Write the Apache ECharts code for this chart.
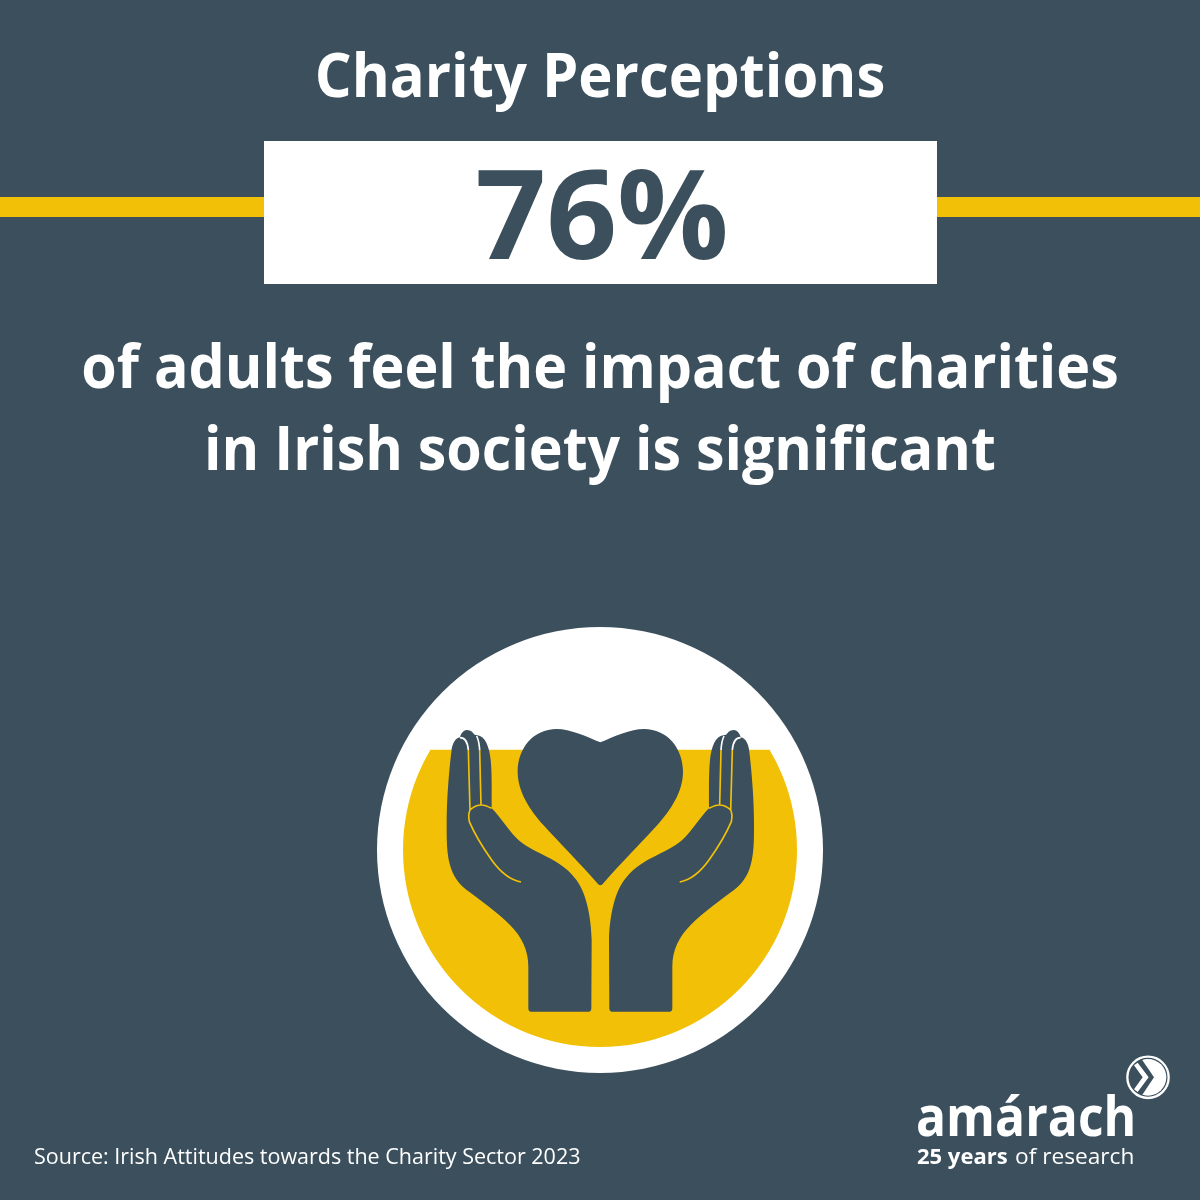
<!DOCTYPE html>
<html><head><meta charset="utf-8">
<style>html,body{margin:0;padding:0;background:#3b4f5c}#c{width:1200px;height:1200px}</style>
<script src="https://cdn.jsdelivr.net/npm/echarts@6/dist/echarts.min.js"></script>
</head><body><div id="c"></div>
<script>
const titleText = 'Charity Perceptions';
const headlineValue = [76];
const headlineSuffix = '%';
const bodyLines = ['of adults feel the impact of charities', 'in Irish society is significant'];
const sourceText = 'Source: Irish Attitudes towards the Charity Sector 2023';
const logoName = 'amárach';
const logoBold = '25 years';
const logoRest = 'of research';

const BG = '#3b4f5c', GOLD = '#f2c107', WHITE = '#ffffff';
const FONT = '"Open Sans", "Noto Sans", sans-serif';

const handPath = 'M325 770 L325 895 C325 902 328 905 333 905 L506 905 C511 905 514 902 514 895 L515 690 C513 610 495 540 465 505 C440 470 400 450 370 435 C340 420 310 405 290 385 C265 360 240 320 215 295 C215 240 216 190 212 150 C208 110 195 78 172 76 C165 76 162 74 160 70 C155 62 148 60 140 60 C130 60 122 72 120 82 C105 85 97 100 94 125 C85 200 80 280 80 340 C80 390 80 430 90 465 C100 500 115 520 140 540 C180 570 230 605 270 645 C305 680 325 720 325 770 Z';
const heartPath = 'M541 97 C500 80 450 57 410 57 C340 57 293 115 293 185 C293 245 330 300 370 345 C420 400 480 460 532 520 C537 528 545 528 550 520 C602 460 662 400 712 345 C752 300 789 245 789 185 C789 115 742 57 672 57 C632 57 582 80 541 97 Z';
const goldLinesPath = 'M145 120 L150 300 M179 120 L183 285 M150 300 C160 290 175 285 185 285 C195 285 205 290 215 295 M150 300 C145 310 145 320 148 335 C165 375 190 415 215 450 C240 485 270 510 303 516';
const whiteLinesPath = 'M120 83 C135 83 143 95 145 120 M170 78 C176 90 178 105 179 120';

echarts.graphic.registerShape('svgLike', echarts.graphic.extendShape({
  shape: { d: '' },
  buildPath(ctx, shape) {
    const toks = shape.d.match(/[MLCZ]|-?[\d.]+/g) || [];
    let i = 0;
    const n = () => parseFloat(toks[i++]);
    while (i < toks.length) {
      const c = toks[i++];
      if (c === 'M') ctx.moveTo(n(), n());
      else if (c === 'L') ctx.lineTo(n(), n());
      else if (c === 'C') ctx.bezierCurveTo(n(), n(), n(), n(), n(), n());
      else if (c === 'Z') ctx.closePath();
    }
  }
}));
function svg(d, style) { return { type: 'svgLike', shape: { d }, style }; }

function handChildren() {
  return [
    svg(handPath, { fill: BG }),
    svg(goldLinesPath, { fill: null, stroke: GOLD, lineWidth: 5 }),
    svg(whiteLinesPath, { fill: null, stroke: WHITE, lineWidth: 5 })
  ];
}

function renderGauge(params, api) {
  const level = api.coord([0, api.value(1)])[1];
  return {
    type: 'group',
    children: [
      { type: 'circle', shape: { cx: 600, cy: 850, r: 223 }, style: { fill: WHITE } },
      { type: 'circle', shape: { cx: 600, cy: 850, r: 197 }, style: { fill: GOLD },
        clipPath: { type: 'rect', shape: { x: 0, y: level, width: 1200, height: 1200 - level } } },
      { type: 'group', x: 420, y: 710, scaleX: 1 / 3, scaleY: 1 / 3,
        children: handChildren().concat([svg(heartPath, { fill: BG })]) },
      { type: 'group', x: 780.67, y: 710, scaleX: -1 / 3, scaleY: 1 / 3, children: handChildren() },
      { type: 'group', x: 1120, y: 1050, scaleX: 1 / 3, scaleY: 1 / 3, children: [
        { type: 'circle', shape: { cx: 84, cy: 82, r: 55 }, style: { fill: WHITE } },
        { type: 'polygon', shape: { points: [[20, 20], [60, 20], [102, 82], [60, 145], [20, 145]] }, style: { fill: BG } },
        { type: 'polygon', shape: { points: [[42, 46], [53, 38], [86, 82], [53, 126], [42, 118], [68, 82]] }, style: { fill: WHITE } },
        { type: 'circle', shape: { cx: 84, cy: 82, r: 62 }, style: { fill: null, stroke: WHITE, lineWidth: 7 } }
      ] }
    ]
  };
}

function txt(text, x, baseline, size, weight, fill, align, extra) {
  return Object.assign({ type: 'text', x, y: baseline, z: 50, style: {
    text, fill, font: weight + ' ' + size + 'px ' + FONT, align: align || 'center', verticalAlign: 'bottom'
  } }, extra || {});
}

const chart = echarts.init(document.getElementById('c'), null, { renderer: 'canvas', width: 1200, height: 1200 });
chart.setOption({
  backgroundColor: BG,
  animation: false,
  grid: { left: 403, width: 394, top: 656, height: 391, containLabel: false },
  xAxis: { type: 'value', min: 0, max: 1, show: false },
  yAxis: { type: 'value', min: 0, max: 100, show: false },
  series: [{ type: 'custom', coordinateSystem: 'cartesian2d', clip: false, silent: true, z: 2,
    data: [[0, headlineValue[0]]], encode: { x: 0, y: 1 }, renderItem: renderGauge }],
  graphic: { elements: [
    { type: 'rect', z: 10, shape: { x: 0, y: 197, width: 1200, height: 20 }, style: { fill: GOLD } },
    { type: 'rect', z: 11, shape: { x: 264, y: 141, width: 673, height: 143 }, style: { fill: WHITE } },
    txt(titleText, 600, 110, 61, 700, WHITE, 'center', { scaleX: 0.95 }),
    txt(headlineValue[0] + headlineSuffix, 602, 286, 124, 700, BG),
    txt(bodyLines[0], 600, 401, 61, 700, WHITE, 'center', { scaleX: 0.94 }),
    txt(bodyLines[1], 600, 483, 61, 700, WHITE, 'center', { scaleX: 0.94 }),
    txt(sourceText, 34, 1169, 21.5, 400, WHITE, 'left'),
    txt(logoName, 916, 1148, 56, 700, WHITE, 'left', { scaleX: 0.89 }),
    txt(logoBold, 917, 1169, 22, 700, WHITE, 'left'),
    txt(logoRest, 1015, 1169, 22.7, 400, WHITE, 'left')
  ] }
});
</script></body></html>
